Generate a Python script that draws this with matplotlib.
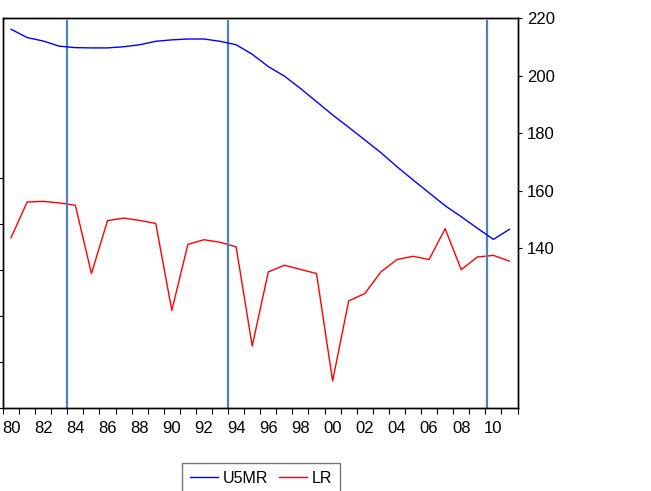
import numpy as np
import matplotlib
matplotlib.use('Agg')
import matplotlib.pyplot as plt
from matplotlib.ticker import FixedLocator, NullFormatter

plt.rcParams['font.family'] = ['Liberation Sans Narrow', 'Liberation Sans', 'DejaVu Sans']

# data
years = np.arange(1980, 2012)
u5mr = [216.2, 213.3, 212.1, 210.3, 209.8, 209.7, 209.7, 210.1, 210.8, 212.0,
        212.5, 212.8, 212.8, 212.0, 210.8, 207.5, 203.2, 199.9, 195.6, 191.0,
        186.4, 182.1, 177.7, 173.3, 168.4, 163.8, 159.3, 154.8, 151.0, 147.0,
        143.1, 146.6]
lr = [74.2, 89.7, 90.0, 89.3, 88.3, 58.6, 81.6, 82.7, 81.7, 80.4,
      42.6, 71.3, 73.3, 72.2, 70.2, 27.1, 59.3, 62.2, 60.4, 58.6,
      11.9, 46.7, 49.9, 59.3, 64.7, 66.1, 64.7, 78.1, 60.3, 65.8,
      66.5, 64.0]
breaks = [1983.5, 1993.5, 2009.63]
right_ticks = [140, 160, 180, 200, 220]
left_ticks = [0, 20, 40, 60, 80, 100]

W, H = 651, 491
fig = plt.figure(figsize=(W / 100, H / 100), dpi=100)
ax = fig.add_axes([3 / W, (H - 408.3) / H, 514.5 / W, 390 / H])
ax2 = ax.twinx()

ax.plot(years, lr, color='#ff0000', lw=1.0, label='LR')
ax2.plot(years, u5mr, color='#0000ff', lw=1.0, label='U5MR')

for b in breaks:
    ax.axvline(b, ymin=0, ymax=0.992, color='#4f81bd', lw=1.6)

ax.set_xlim(1979.5, 2011.5)
ax.set_ylim(0, 169.6)
ax2.set_ylim(84.35, 220)

ax.xaxis.set_major_locator(FixedLocator(list(range(1980, 2012, 2))))
ax.set_xticklabels(['%02d' % (y % 100) for y in range(1980, 2012, 2)])
ax.xaxis.set_minor_locator(FixedLocator(list(np.arange(1979.5, 2012, 1.0))))
ax.tick_params(axis='x', which='major', length=0, pad=9, labelsize=12)
ax.tick_params(axis='x', which='minor', length=4.5, width=0.8, direction='out')

ax.set_yticks(left_ticks)
ax.yaxis.set_major_formatter(NullFormatter())
ax.tick_params(axis='y', length=3, width=0.8, direction='out')

ax2.set_yticks(right_ticks)
ax2.tick_params(axis='y', length=3, width=0.8, direction='out', pad=4, labelsize=12)

for a in (ax, ax2):
    for s in a.spines.values():
        s.set_linewidth(1.0)
        s.set_color('black')

h1, l1 = ax2.get_legend_handles_labels()
h2, l2 = ax.get_legend_handles_labels()
leg = fig.legend(h1 + h2, l1 + l2, ncol=2, loc='upper left',
                 bbox_to_anchor=(182 / W, 1 - 463 / H), frameon=True,
                 fancybox=False, edgecolor='#555555', fontsize=11.5,
                 handlelength=1.75, handletextpad=0.3, columnspacing=0.7,
                 borderpad=0.5, borderaxespad=0)
leg.get_frame().set_linewidth(1.0)

fig.savefig('out.png', dpi=100)
